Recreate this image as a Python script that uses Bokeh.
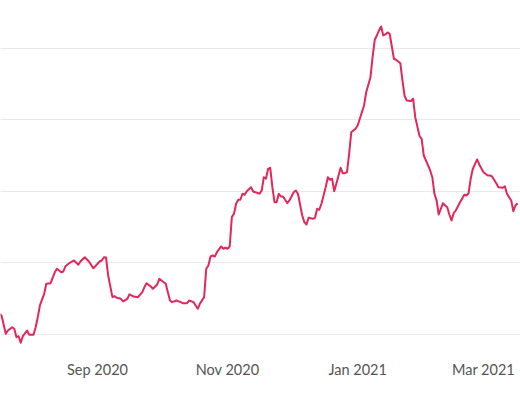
import numpy as np
import pandas as pd
from bokeh.plotting import figure
from bokeh.models import FixedTicker, Range1d
from bokeh.embed import file_html
from bokeh.resources import INLINE

# ---- data -------------------------------------------------------------
BASE_DATE = "2020-09-01"
day_offsets = [
    -46, -45, -43, -42, -40, -39, -38, -37, -36, -35, -33, -32, -30, -29, -28, -27,
    -25, -24, -22, -20, -19, -17, -16, -15, -13, -11, -9, -8, -6, -4, -2, -1,
    1, 2, 3, 4, 5, 7, 8, 9, 11, 12, 14, 15, 17, 19, 21, 22, 23, 25, 26, 28, 29,
    30, 32, 33, 34, 35, 37, 39, 40, 42, 43, 45, 46, 47, 48, 50, 51, 52, 53, 54,
    55, 56, 58, 59, 60, 61, 62, 63, 64, 65, 66, 67, 68, 69, 70, 72, 73, 76, 77,
    78, 79, 80, 81, 82, 83, 84, 85, 86, 87, 89, 90, 92, 93, 94, 96, 97, 98, 99,
    101, 102, 103, 104, 105, 107, 108, 109, 110, 111, 112, 114, 115, 116, 117,
    118, 119, 121, 122, 123, 125, 126, 128, 129, 130, 131, 132, 133, 134, 135,
    136, 137, 139, 140, 142, 143, 144, 145, 147, 148, 149, 151, 152, 153, 155,
    156, 157, 158, 159, 160, 162, 163, 164, 165, 166, 167, 168, 170, 172, 173,
    174, 175, 176, 178, 179, 181, 183, 184, 185, 187, 188, 190, 191, 192, 194,
    195, 196, 197,
]
values = [
    12.90, 12.66, 10.10, 10.56, 11.02, 10.80, 9.62, 9.76, 8.84, 9.76, 10.56, 9.96,
    9.96, 11.02, 12.42, 14.06, 15.69, 17.09, 17.17, 18.71, 19.19, 18.71, 18.81,
    19.55, 20.03, 20.35, 19.75, 20.21, 20.81, 20.21, 19.27, 19.55,
    20.21, 20.35, 20.81, 20.77, 18.25, 15.22, 15.36, 15.13, 14.99, 14.62, 14.99,
    15.62, 15.31, 15.22, 15.92, 16.62, 17.17, 16.71, 16.39, 16.99, 17.79,
    17.55, 17.09, 15.92, 14.76, 14.52, 14.76, 14.52, 14.38, 14.38, 14.76, 14.52,
    14.06, 13.59, 14.29, 15.22, 19.19, 19.65, 20.91, 21.05,
    20.91, 21.51, 22.31, 21.99, 22.13, 21.99, 22.31, 26.41, 26.88, 28.28, 28.84,
    28.84, 29.68, 29.54, 30.04, 30.60, 30.00, 29.68, 30.14,
    32.00, 31.78, 33.17, 33.31, 30.60, 28.50, 28.50, 29.68, 29.30, 29.30, 28.36,
    28.74, 29.90, 30.14, 29.68, 26.64, 25.71, 25.38, 26.32,
    26.18, 26.32, 27.58, 27.44, 28.28, 30.60, 32.00, 31.64, 31.78, 30.04, 31.08,
    33.31, 32.56, 32.56, 32.70,
    35.27, 38.29, 38.77, 39.23, 40.17, 42.03, 43.89, 45.99, 48.78, 51.22, 51.82,
    52.52, 53.08, 51.82, 51.96,
    52.24, 52.06, 48.56, 48.42, 47.94, 45.52, 43.36, 42.73, 42.66, 42.97, 40.39,
    37.76, 37.37, 35.03, 33.64,
    32.94, 32.00, 29.68, 28.74, 26.78, 28.36, 28.04, 27.80, 26.78, 25.94, 26.96,
    27.34, 28.50, 29.54, 29.44,
    29.76, 31.78, 33.17, 34.48, 33.78, 32.70, 32.24, 32.24, 32.10, 31.16, 30.60,
    30.52, 30.74, 29.68, 28.74,
    27.24, 28.04, 28.36,
]
tick_dates = ["2020-09-01", "2020-11-01", "2021-01-01", "2021-03-01"]
tick_labels = ["Sep 2020", "Nov 2020", "Jan 2021", "Mar 2021"]
grid_values = [10, 20, 30, 40, 50]

# ---- build ------------------------------------------------------------
base = pd.Timestamp(BASE_DATE)
dates = [base + pd.Timedelta(days=d) for d in day_offsets]

def to_ms(ts):
    return pd.Timestamp(ts).value // 10**6

tick_ms = [to_ms(t) for t in tick_dates]

x_start = base + pd.Timedelta(days=-45.48)
x_end = base + pd.Timedelta(days=198.35)

p = figure(
    width=520, height=400,
    x_axis_type="datetime",
    x_range=Range1d(x_start, x_end),
    y_range=Range1d(7.76, 56.71),
    output_backend="svg",
    toolbar_location=None,
    min_border_left=0, min_border_right=0, min_border_top=0, min_border_bottom=50,
)
p.outline_line_color = None
p.background_fill_color = "white"
p.border_fill_color = "white"

p.yaxis.visible = False
p.xgrid.visible = False
p.ygrid.ticker = FixedTicker(ticks=grid_values)
p.ygrid.grid_line_color = "#e9e9e9"
p.ygrid.grid_line_width = 1

xa = p.xaxis[0]
xa.ticker = FixedTicker(ticks=tick_ms)
xa.major_label_overrides = {ms: lab for ms, lab in zip(tick_ms, tick_labels)}
xa.axis_line_color = None
xa.major_tick_line_color = None
xa.minor_tick_line_color = None
xa.major_tick_out = 0
xa.major_tick_in = 0
xa.major_label_standoff = 10
xa.major_label_text_font = "Lato"
xa.major_label_text_font_size = "14.5px"
xa.major_label_text_color = "#555555"

p.line(dates, values, line_color="#e2275a", line_width=2, line_join="round")

open("out.html", "w").write(file_html(p, INLINE))
